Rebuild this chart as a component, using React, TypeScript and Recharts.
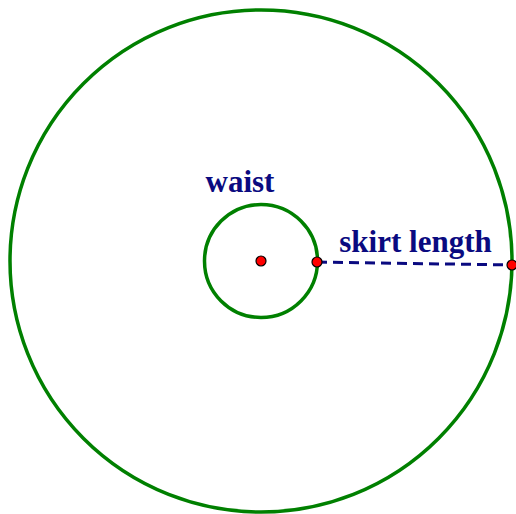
import React from "react";
import { ScatterChart, Scatter, XAxis, YAxis, ReferenceDot, ReferenceLine } from "recharts";

// Geometry in pixel-sized units, centre of the skirt at (0, 0)
const centre = { x: 0, y: 0 };
const waistRadius = 56.5;
const skirtRadius = 251;
const points = [
  { x: 0, y: 0 },
  { x: 56, y: -1 },
  { x: 251, y: -4 },
];
const skirtLine = [
  { x: 56, y: -1 },
  { x: 251, y: -4 },
];
const labels = [
  { text: "waist", x: -21, y: 69 },
  { text: "skirt length", x: 154.5, y: 9 },
];

const W = 516;
const H = 514;
const xDomain: [number, number] = [-261, 255];
const yDomain: [number, number] = [-253, 261];
const pxPerUnit = W / (xDomain[1] - xDomain[0]);

const GREEN = "#008000";
const NAVY = "#0a0a80";

const RedDot = (props: any) => {
  const { cx, cy } = props;
  if (cx == null || cy == null) return null;
  return <circle cx={cx} cy={cy} r={5} fill="#ff0000" stroke="#000" strokeWidth={1.2} />;
};

const makeLabel = (text: string) => (props: any) => {
  const vb = props.viewBox || {};
  const x = vb.cx ?? vb.x;
  const y = vb.cy ?? vb.y;
  return (
    <text
      x={x}
      y={y}
      textAnchor="middle"
      fill={NAVY}
      fontFamily="'Liberation Serif', 'Times New Roman', serif"
      fontWeight="bold"
      fontSize={31}
    >
      {text}
    </text>
  );
};

export default function App() {
  return (
    <div style={{ position: "absolute", left: 0, top: 0, width: W, height: H, background: "#fff" }}>
      <ScatterChart width={W} height={H} margin={{ top: 0, right: 0, bottom: 0, left: 0 }}>
        <XAxis type="number" dataKey="x" domain={xDomain} hide allowDataOverflow />
        <YAxis type="number" dataKey="y" domain={yDomain} hide width={0} allowDataOverflow />
        <ReferenceDot
          x={centre.x}
          y={centre.y}
          r={skirtRadius * pxPerUnit}
          fill="none"
          stroke={GREEN}
          strokeWidth={3.5}
          ifOverflow="visible"
        />
        <ReferenceDot
          x={centre.x}
          y={centre.y}
          r={waistRadius * pxPerUnit}
          fill="none"
          stroke={GREEN}
          strokeWidth={3.5}
          ifOverflow="visible"
        />
        <ReferenceLine
          segment={skirtLine}
          stroke={NAVY}
          strokeWidth={3}
          strokeDasharray="10 6"
          ifOverflow="visible"
        />
        <Scatter data={points} shape={<RedDot />} isAnimationActive={false} />
        {labels.map((l) => (
          <ReferenceDot
            key={l.text}
            x={l.x}
            y={l.y}
            r={0}
            fill="none"
            stroke="none"
            ifOverflow="visible"
            label={makeLabel(l.text)}
          />
        ))}
      </ScatterChart>
    </div>
  );
}
